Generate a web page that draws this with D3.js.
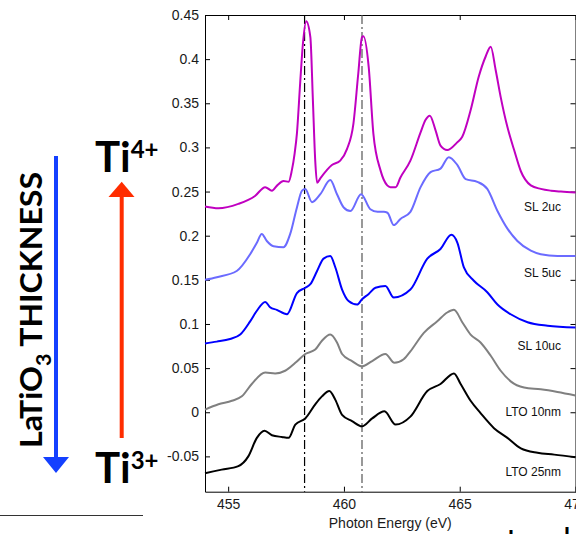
<!DOCTYPE html>
<html>
<head>
<meta charset="utf-8">
<script src="https://cdn.jsdelivr.net/npm/d3@7.9.0/dist/d3.min.js"></script>
<style>
  body { margin: 0; background: #fff; }
  svg { display: block; }
  .tick text { font-family: "Liberation Sans", Arial, sans-serif; font-size: 14px; fill: #1a1a1a; }
  .tick line, .domain { stroke: #000; }
</style>
</head>
<body>
<svg id="chart" width="576" height="534"></svg>
<script>
// photon energy (eV) / intensity pairs
const sl2Energy = [454.00, 454.58, 455.44, 456.16, 456.60, 456.89, 457.12, 457.39, 457.61, 457.75, 457.87, 457.97, 458.11, 458.23, 458.37, 458.55, 458.66, 458.76, 458.84, 458.98, 459.48, 459.84, 460.13, 460.41, 460.62, 460.78, 460.84, 461.07, 461.27, 461.58, 461.87, 462.01, 462.23, 462.44, 462.87, 463.31, 463.52, 463.71, 463.96, 464.17, 464.46, 464.90, 465.11, 465.47, 465.82, 466.12, 466.34, 466.55, 466.77, 467.06, 467.35, 467.64, 468.07, 468.50, 468.94, 469.37, 470.00];
const sl2Signal = [0.233, 0.231, 0.236, 0.245, 0.255, 0.251, 0.257, 0.262, 0.261, 0.274, 0.293, 0.316, 0.373, 0.418, 0.443, 0.425, 0.353, 0.285, 0.260, 0.265, 0.280, 0.285, 0.298, 0.327, 0.384, 0.425, 0.426, 0.391, 0.316, 0.274, 0.257, 0.255, 0.255, 0.266, 0.285, 0.317, 0.331, 0.336, 0.319, 0.302, 0.297, 0.306, 0.312, 0.342, 0.380, 0.403, 0.414, 0.388, 0.357, 0.323, 0.297, 0.273, 0.257, 0.253, 0.251, 0.250, 0.249];

const sl5Energy = [454.00, 454.51, 455.37, 455.95, 456.24, 456.45, 456.67, 456.96, 457.39, 457.68, 457.97, 458.19, 458.33, 458.62, 458.98, 459.41, 459.70, 459.99, 460.28, 460.74, 461.14, 461.45, 461.72, 461.88, 462.15, 462.44, 462.87, 463.31, 463.74, 464.17, 464.53, 464.90, 465.26, 465.76, 466.19, 466.63, 467.06, 467.49, 468.07, 468.50, 469.22, 470.00];
const sl5Signal = [0.150, 0.153, 0.160, 0.179, 0.192, 0.202, 0.194, 0.188, 0.187, 0.202, 0.232, 0.251, 0.253, 0.238, 0.247, 0.263, 0.247, 0.232, 0.228, 0.247, 0.230, 0.227, 0.227, 0.226, 0.212, 0.219, 0.227, 0.255, 0.272, 0.276, 0.289, 0.280, 0.264, 0.261, 0.253, 0.228, 0.208, 0.194, 0.183, 0.179, 0.177, 0.177];

const sl10Energy = [454.00, 454.51, 455.08, 455.52, 455.95, 456.24, 456.60, 456.81, 457.10, 457.54, 457.97, 458.33, 458.55, 458.84, 459.12, 459.41, 459.63, 459.92, 460.20, 460.57, 460.78, 461.07, 461.36, 461.79, 462.15, 462.87, 463.60, 464.17, 464.64, 464.90, 465.18, 465.61, 466.19, 466.63, 467.20, 467.93, 468.79, 470.00];
const sl10Signal = [0.078, 0.080, 0.083, 0.088, 0.103, 0.115, 0.125, 0.119, 0.116, 0.111, 0.135, 0.141, 0.145, 0.160, 0.174, 0.177, 0.164, 0.139, 0.126, 0.122, 0.128, 0.134, 0.141, 0.143, 0.130, 0.139, 0.174, 0.185, 0.201, 0.192, 0.164, 0.149, 0.136, 0.122, 0.111, 0.102, 0.098, 0.096];

const lto10Energy = [454.00, 454.58, 455.16, 455.59, 456.02, 456.60, 457.03, 457.46, 457.90, 458.33, 458.76, 459.05, 459.41, 459.70, 459.92, 460.35, 460.78, 461.22, 461.79, 462.18, 462.58, 462.87, 463.45, 464.03, 464.46, 464.75, 465.11, 465.47, 465.90, 466.34, 466.77, 467.20, 467.78, 468.50, 469.22, 470.00];
const lto10Signal = [0.003, 0.009, 0.013, 0.018, 0.032, 0.045, 0.044, 0.047, 0.056, 0.066, 0.071, 0.081, 0.088, 0.079, 0.066, 0.058, 0.052, 0.058, 0.066, 0.056, 0.060, 0.069, 0.090, 0.103, 0.113, 0.116, 0.102, 0.088, 0.079, 0.064, 0.047, 0.035, 0.028, 0.026, 0.023, 0.019];

const lto25Energy = [454.00, 454.72, 455.44, 455.87, 456.24, 456.57, 456.89, 457.32, 457.61, 457.90, 458.33, 458.76, 459.05, 459.37, 459.63, 459.92, 460.35, 460.78, 461.22, 461.75, 462.23, 462.87, 463.60, 464.17, 464.75, 465.04, 465.47, 465.90, 466.48, 467.06, 467.64, 468.36, 469.08, 470.00];
const lto25Signal = [-0.069, -0.065, -0.061, -0.050, -0.029, -0.021, -0.026, -0.028, -0.029, -0.014, -0.007, 0.009, 0.018, 0.024, 0.014, -0.003, -0.010, -0.016, -0.007, 0.001, -0.014, -0.005, 0.024, 0.032, 0.044, 0.032, 0.013, -0.001, -0.018, -0.029, -0.041, -0.046, -0.048, -0.051];

const seriesNames = ['SL 2uc', 'SL 5uc', 'SL 10uc', 'LTO 10nm', 'LTO 25nm'];
const seriesColors = ['#c000c0', '#6b6bff', '#0000ff', '#808080', '#000000'];
const labelHeights = [0.2325, 0.1575, 0.075, 0.0005, -0.067];
const markerEnergies = [458.3, 460.78];
const xTicks = [455, 460, 465, 470];
const yTicks = [-0.05, 0, 0.05, 0.1, 0.15, 0.2, 0.25, 0.3, 0.35, 0.4, 0.45];

const energies = [sl2Energy, sl5Energy, sl10Energy, lto10Energy, lto25Energy];
const signals = [sl2Signal, sl5Signal, sl10Signal, lto10Signal, lto25Signal];

const plotLeft = 205, plotRight = 575.5, plotTop = 15, plotBottom = 491.7;

const x = d3.scaleLinear().domain([454, 470]).range([plotLeft, plotRight]);
const y = d3.scaleLinear().domain([-0.09, 0.45]).range([plotBottom, plotTop]);

const svg = d3.select('#chart');
const fmt = d => String(+d.toFixed(2));

// axes, ticks pointing inward on all four sides
svg.append('g')
  .attr('transform', `translate(0,${plotBottom})`)
  .call(d3.axisBottom(x).tickValues(xTicks).tickSizeInner(-5).tickSizeOuter(0).tickPadding(7));
svg.append('g')
  .attr('transform', `translate(0,${plotTop})`)
  .call(d3.axisTop(x).tickValues(xTicks).tickSizeInner(-5).tickSizeOuter(0).tickFormat(''));
svg.append('g')
  .attr('transform', `translate(${plotLeft},0)`)
  .call(d3.axisLeft(y).tickValues(yTicks).tickSizeInner(-5).tickSizeOuter(0).tickPadding(6).tickFormat(fmt));
svg.append('g')
  .attr('transform', `translate(${plotRight},0)`)
  .call(d3.axisRight(y).tickValues(yTicks).tickSizeInner(-5).tickSizeOuter(0).tickFormat(''));

// dash-dot reference lines
svg.selectAll('line.marker')
  .data(markerEnergies)
  .join('line')
  .attr('class', 'marker')
  .attr('x1', d => x(d)).attr('x2', d => x(d))
  .attr('y1', plotTop).attr('y2', plotBottom)
  .attr('stroke', (d, i) => i === 0 ? '#000' : '#555')
  .attr('stroke-width', 1.2)
  .attr('stroke-dasharray', '9,3,2,3');

const line = d3.line()
  .x(d => x(d[0]))
  .y(d => y(d[1]))
  .curve(d3.curveMonotoneX);

energies.forEach((e, i) => {
  const pts = e.map((v, j) => [v, signals[i][j]]);
  svg.append('path')
    .datum(pts)
    .attr('d', line)
    .attr('fill', 'none')
    .attr('stroke', seriesColors[i])
    .attr('stroke-width', 2)
    .attr('stroke-linejoin', 'round');
});

svg.selectAll('text.series')
  .data(seriesNames)
  .join('text')
  .attr('class', 'series')
  .attr('x', 561)
  .attr('y', (d, i) => y(labelHeights[i]))
  .attr('dy', '0.35em')
  .attr('text-anchor', 'end')
  .attr('font-family', '"Liberation Sans", Arial, sans-serif')
  .attr('font-size', 12)
  .attr('fill', '#111')
  .text(d => d);

svg.append('text')
  .attr('x', (plotLeft + plotRight) / 2)
  .attr('y', 528)
  .attr('text-anchor', 'middle')
  .attr('font-family', '"Liberation Sans", Arial, sans-serif')
  .attr('font-size', 14)
  .attr('fill', '#1a1a1a')
  .text('Photon Energy (eV)');

// left-hand annotation
const bold = 'Lato, "Open Sans", sans-serif';

svg.append('line')
  .attr('x1', 56).attr('x2', 56).attr('y1', 156).attr('y2', 458)
  .attr('stroke', '#1440ff').attr('stroke-width', 4);
svg.append('path')
  .attr('d', 'M43,457 L69,457 L56,473 Z')
  .attr('fill', '#1440ff');

const thick = svg.append('text')
  .attr('transform', 'translate(42,310) rotate(-90)')
  .attr('text-anchor', 'middle')
  .attr('font-family', bold)
  .attr('font-weight', 700)
  .attr('font-size', 30)
  .attr('fill', '#000')
  .attr('textLength', 276)
  .attr('lengthAdjust', 'spacingAndGlyphs');
thick.append('tspan').text('LaTiO');
thick.append('tspan').attr('font-size', 20).attr('dy', 9).text('3');
thick.append('tspan').attr('dy', -9).text(' THICKNESS');

svg.append('line')
  .attr('x1', 121.7).attr('x2', 121.7).attr('y1', 438).attr('y2', 196)
  .attr('stroke', '#ff2d00').attr('stroke-width', 4);
svg.append('path')
  .attr('d', 'M108.5,197 L134.5,197 L121.7,181.7 Z')
  .attr('fill', '#ff2d00');

[['4+', 172], ['3+', 483]].forEach(([sup, base]) => {
  const t = svg.append('text')
    .attr('x', 95)
    .attr('y', base)
    .attr('font-family', bold)
    .attr('font-weight', 700)
    .attr('font-size', 42)
    .attr('fill', '#000');
  t.append('tspan').text('Ti');
  t.append('tspan').attr('font-size', 24).attr('dy', -14).text(sup);
});

svg.append('line')
  .attr('x1', 0).attr('x2', 143).attr('y1', 515.5).attr('y2', 515.5)
  .attr('stroke', '#333').attr('stroke-width', 1.2);

// cut-off text fragments at the very bottom edge
svg.append('text')
  .attr('x', 508).attr('y', 549)
  .attr('font-family', bold).attr('font-weight', 700).attr('font-size', 24)
  .text('l');
svg.append('text')
  .attr('x', 564).attr('y', 546)
  .attr('font-family', bold).attr('font-weight', 700).attr('font-size', 24)
  .text('l');
</script>
</body>
</html>
